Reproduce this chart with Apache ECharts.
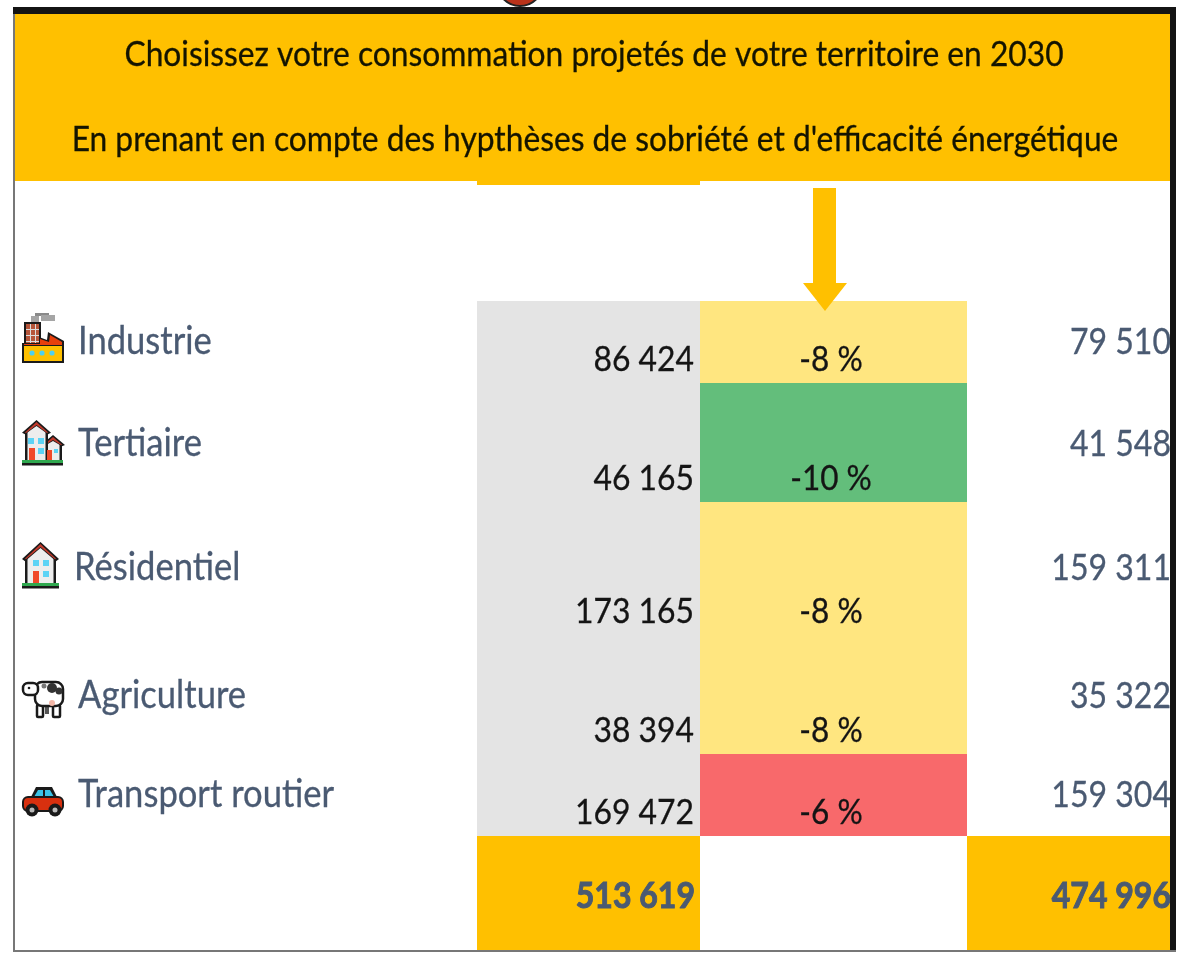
<!DOCTYPE html>
<html>
<head>
<meta charset="utf-8">
<title>Consommation 2030</title>
<script src="https://cdn.jsdelivr.net/npm/echarts@6/dist/echarts.min.js"></script>
<style>
html,body{margin:0;padding:0;background:#fff;}
#main{width:1187px;height:953px;filter:blur(0.6px);}
</style>
</head>
<body>
<div id="main"></div>
<script>
// values
let titleLines = ['Choisissez votre consommation projetés de votre territoire en 2030', "En prenant en compte des hypthèses de sobriété et d'efficacité énergétique"];
let sectors = ['Industrie', 'Tertiaire', 'Résidentiel', 'Agriculture', 'Transport routier'];
let conso2020 = [86424, 46165, 173165, 38394, 169472];
let reductions = [-8, -10, -8, -8, -6];
let conso2030 = [79510, 41548, 159311, 35322, 159304];
let totals = [513619, 474996];

// layout of the sheet, axes are mapped 1:1 on the picture
let rowEdges = [301, 383, 502, 630, 754, 836, 950];
let labelY = [342, 444, 568, 696, 795];
let valueY = [360, 479, 612, 731, 813];
let labelX = [78, 78, 74, 78, 78];
let iconY = [313, 420, 542, 680, 787];
let colEdges = [477, 700, 967, 1170];
let fontName = 'Lato';
let gold = '#FFC000', slate = '#4A5A72', ink = '#141414';

function reductionColor(v){
    if(v <= -10) return '#63BE7B';
    if(v >= -6) return '#F8696B';
    return '#FFE680';
}
function fmt(n){
    return String(n).replace(/\B(?=(\d{3})+$)/g, ' ');
}
function txt(x, y, s, size, color, align, sx, weight, heavy){
    return {type:'text', x:x, y:y, scaleX:sx, z2:5,
        style:{text:s, x:0, y:0, fontFamily:fontName, fontSize:size, fontWeight:weight||'normal',
            fill:color, stroke:color, lineWidth:heavy||0.3, align:align, verticalAlign:'middle'}};
}
function box(api, x0, y0, x1, y1, color){
    let a = api.coord([x0, y0]), b = api.coord([x1, y1]);
    return {type:'rect', shape:{x:a[0], y:a[1], width:b[0]-a[0], height:b[1]-a[1]}, style:{fill:color}};
}
function poly(pts, color){
    return {type:'polygon', shape:{points:pts}, style:{fill:color}};
}
function rr(x, y, w, h, color){
    return {type:'rect', shape:{x:x, y:y, width:w, height:h}, style:{fill:color}};
}
function dot(x, y, r, color){
    return {type:'circle', shape:{cx:x, cy:y, r:r}, style:{fill:color}};
}
function outlined(x, y, w, h, r, color){
    return {type:'rect', shape:{x:x, y:y, width:w, height:h, r:r}, style:{fill:color, stroke:K, lineWidth:2.5}};
}

// small pictos, drawn in local coordinates
let K = '#1a1a1a';
function houseParts(x, w, top, bottom, roof){
    return [
        poly([[x+w/2, top+6], [x+w-2, top+w*0.55], [x+w-2, bottom], [x+2, bottom], [x+2, top+w*0.55]], '#EDEDED'),
        rr(x, top+w*0.5, 2.5, bottom-top-w*0.5, K),
        rr(x+w-2.5, top+w*0.5, 2.5, bottom-top-w*0.5, K),
        poly([[x+w/2, top], [x+w+3, top+w*0.55], [x+w, top+w*0.62], [x+w/2, top+6], [x, top+w*0.62], [x-3, top+w*0.55]], K),
        poly([[x+w/2, top+2], [x+w, top+w*0.54], [x+w-1, top+w*0.56], [x+w/2, top+5], [x+1, top+w*0.56], [x, top+w*0.54]], roof)
    ];
}
let icons = [
    function(){ // factory
        return [
            rr(13, 0, 14, 3, '#8a8a8a'), rr(19, 2, 14, 6, '#a5a5a5'), rr(9, 3, 8, 6, '#a5a5a5'),
            rr(2, 9, 17, 24, K),
            rr(4, 11, 13, 22, '#B5553A'), rr(4, 16, 13, 1, '#DDD'), rr(4, 22, 13, 1, '#DDD'), rr(4, 28, 13, 1, '#DDD'), rr(8, 11, 1, 22, '#DDD'), rr(13, 11, 1, 22, '#DDD'),
            poly([[17, 24], [25, 27], [26, 19], [42, 28], [42, 32], [0, 32], [0, 30], [17, 30]], K),
            poly([[18, 26], [27, 29], [28, 22], [40, 29], [40, 33], [2, 33], [2, 31], [18, 31]], '#E8400C'),
            rr(0, 32, 42, 18, K),
            rr(2, 33, 38, 15, gold),
            dot(10, 40, 2.6, '#4FD0F0'), dot(20, 40, 2.6, '#4FD0F0'), dot(30, 40, 2.6, '#4FD0F0')
        ];
    },
    function(){ // offices, two houses
        let c = [];
        c = c.concat(houseParts(22, 18, 15, 42, '#C0392B'));
        c = c.concat(houseParts(3, 23, 0, 42, '#C0392B'));
        c.push(rr(6, 18, 6, 6, '#5CD3F5'), rr(16, 18, 6, 6, '#5CD3F5'), rr(16, 28, 6, 6, '#5CD3F5'),
            rr(7, 28, 6, 14, '#F0492A'), rr(25, 30, 5, 12, '#F0492A'), rr(32, 29, 4, 4, '#5CD3F5'),
            rr(0, 40, 41, 3, '#2FA84F'), rr(0, 43, 41, 2.5, K));
        return c;
    },
    function(){ // house
        let c = houseParts(3, 31, 0, 43, '#C0392B');
        c.push(rr(11, 18, 6, 6, '#5CD3F5'), rr(21, 18, 6, 6, '#5CD3F5'), rr(21, 29, 6, 6, '#5CD3F5'), rr(11, 29, 6, 13, '#F0492A'),
            rr(0, 41, 37, 3, '#2FA84F'), rr(0, 44, 37, 2.5, K));
        return c;
    },
    function(){ // cow
        return [
            outlined(15, 25, 6, 12, 1, '#fff'), outlined(31, 25, 7, 12, 1, '#fff'),
            rr(23, 25, 4, 9, '#555'),
            outlined(13, 2, 28, 24, 7, '#fff'),
            outlined(1, 3, 15, 12, 5, '#fff'),
            dot(30, 8, 5, '#333'), dot(37, 11, 3.5, '#333'), dot(22, 6, 2.5, '#777'), dot(30, 23, 3, '#F4B8A8'), dot(7, 8, 1.3, K)
        ];
    },
    function(){ // car
        return [
            poly([[9, 10], [14, 0], [30, 0], [35, 10]], K),
            poly([[12, 10], [16, 3], [28, 3], [32, 10]], '#3AC4E8'),
            rr(21, 2, 2, 9, K),
            {type:'rect', shape:{x:1, y:10, width:40, height:14, r:5}, style:{fill:'#D8300F', stroke:K, lineWidth:2}},
            dot(10, 23, 6.5, K), dot(33, 23, 6.5, K), dot(10, 23, 2.5, '#BBB'), dot(33, 23, 2.5, '#BBB')
        ];
    }
];

let myChart = echarts.init(document.getElementById('main'));

let option = {
    animation: false,
    backgroundColor: '#fff',
    grid: {left:0, right:0, top:0, bottom:0},
    xAxis: {type:'value', min:0, max:1187, show:false},
    yAxis: {type:'value', min:0, max:953, inverse:true, show:false},
    series: [
        { // title band
            type:'custom', coordinateSystem:'cartesian2d', data:[[0, 0]], silent:true, z:1,
            renderItem:function(p, api){
                return {type:'group', children:[
                    box(api, 15, 14, 1170, 181, gold),
                    box(api, 477, 181, 700, 185, gold),
                    txt(594, 55, titleLines[0], 35, '#141400', 'center', 0.907),
                    txt(595, 140, titleLines[1], 35, '#141400', 'center', 0.907)
                ]};
            }
        },
        { // 2020 column
            type:'custom', data:conso2020.map(function(v, i){ return [i, v]; }), silent:true, z:2,
            renderItem:function(p, api){
                let i = api.value(0);
                return {type:'group', children:[
                    box(api, colEdges[0], rowEdges[i], colEdges[1], rowEdges[i+1], '#E4E4E4'),
                    txt(694, valueY[i], fmt(api.value(1)), 35, ink, 'right', 0.91)
                ]};
            }
        },
        { // reduction column, coloured like an excel colour scale
            type:'custom', data:reductions.map(function(v, i){ return [i, v]; }), silent:true, z:2,
            renderItem:function(p, api){
                let i = api.value(0);
                return {type:'group', children:[
                    box(api, colEdges[1], rowEdges[i], colEdges[2], rowEdges[i+1], reductionColor(api.value(1))),
                    txt(831, valueY[i], api.value(1) + ' %', 35, ink, 'center', 0.9)
                ]};
            }
        },
        { // 2030 column
            type:'custom', data:conso2030.map(function(v, i){ return [i, v]; }), silent:true, z:2,
            renderItem:function(p, api){
                let i = api.value(0);
                return txt(1171, labelY[i], fmt(api.value(1)), 36, slate, 'right', 0.89);
            }
        },
        { // totals
            type:'custom', data:totals.map(function(v, i){ return [i, v]; }), silent:true, z:2,
            renderItem:function(p, api){
                let i = api.value(0);
                let x0 = i == 0 ? colEdges[0] : colEdges[2], x1 = i == 0 ? colEdges[1] : colEdges[3];
                return {type:'group', children:[
                    box(api, x0, rowEdges[5], x1, rowEdges[6], gold),
                    txt(i == 0 ? 695 : 1171, 896, fmt(api.value(1)), 36, slate, 'right', 0.89, 'bold', 1)
                ]};
            }
        },
        { // sector names
            type:'custom', data:sectors.map(function(s, i){ return [i, s]; }), silent:true, z:2,
            dimensions:['row', {name:'name', type:'ordinal'}],
            renderItem:function(p, api){
                let i = api.value(0);
                return txt(labelX[i], labelY[i], sectors[i], 38, slate, 'left', 0.91);
            }
        },
        { // pictos + arrow + frame on top
            type:'custom', data:[[0, 0]], silent:true, z:3,
            renderItem:function(p, api){
                let kids = [];
                icons.forEach(function(fn, i){
                    kids.push({type:'group', x:22, y:iconY[i], children:fn()});
                });
                kids.push(
                    box(api, 813, 188, 836, 283, gold),
                    {type:'polygon', shape:{points:[[803, 283], [847, 283], [825, 311]]}, style:{fill:gold}},
                    {type:'circle', shape:{cx:520, cy:-17, r:23}, style:{fill:'#B8321A', stroke:'#222', lineWidth:2}},
                    box(api, 13, 7, 1176, 14, '#141414'),
                    box(api, 13, 14, 15, 951, '#777'),
                    box(api, 1170, 14, 1176, 951, '#141414'),
                    box(api, 13, 950, 1176, 952, '#777')
                );
                return {type:'group', children:kids};
            }
        }
    ]
};

myChart.setOption(option, true);
</script>
</body>
</html>
